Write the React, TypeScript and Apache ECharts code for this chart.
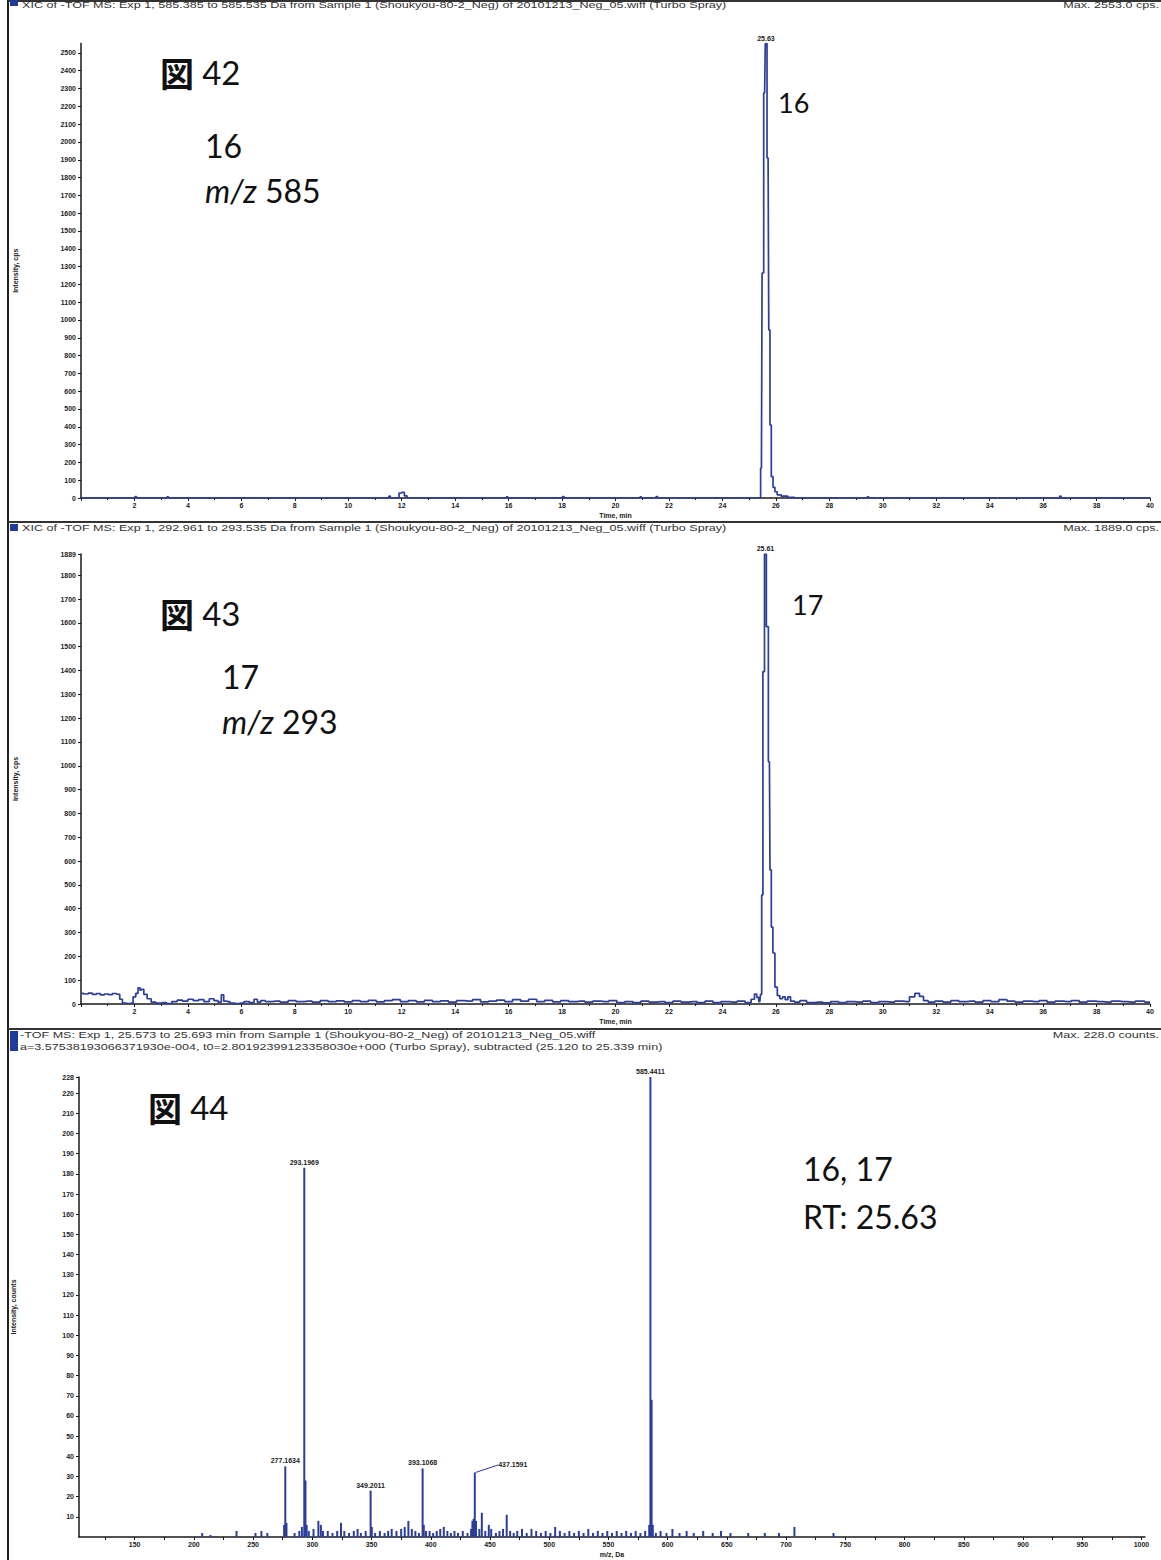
import React, { useEffect, useRef } from "react";
import * as echarts from "echarts";

// ---- Panel 1 (図42): XIC m/z 585 ----
const XIC585_TIME = [0, 2.0, 2.05, 2.1, 3.2, 3.25, 3.3, 11.5, 11.55, 11.6, 11.85, 11.95, 12.05, 12.15, 12.25, 15.9, 15.95, 16.0, 18.0, 18.05, 18.1, 20.9, 20.95, 21.0, 21.5, 21.55, 21.6, 25.4, 25.46, 25.51, 25.58, 25.63, 25.71, 25.76, 25.8, 25.86, 25.93, 26.0, 26.1, 26.3, 26.6, 26.8, 29.4, 29.45, 29.5, 36.6, 36.65, 36.7, 40];
const XIC585_INT = [0, 0, 8, 0, 0, 6, 0, 0, 10, 0, 0, 28, 32, 12, 0, 0, 6, 0, 0, 8, 0, 0, 6, 0, 0, 8, 0, 0, 168, 1264, 2275, 2553, 1910, 944, 410, 120, 60, 35, 18, 10, 4, 0, 0, 6, 0, 0, 10, 0, 0];

// ---- Panel 2 (図43): XIC m/z 293 ----
const XIC293_TIME = [0.0, 0.2, 0.35, 0.5, 0.65, 0.8, 0.95, 1.1, 1.25, 1.4, 1.5, 1.6, 1.75, 1.9, 2.0, 2.1, 2.17, 2.25, 2.3, 2.4, 2.55, 2.7, 2.9, 3.1, 3.3, 3.5, 3.7, 3.9, 4.1, 4.3, 4.5, 4.7, 4.9, 5.05, 5.2, 5.3, 5.38, 5.5, 5.65, 5.8, 6.0, 6.2, 6.4, 6.55, 6.65, 6.8, 7.0, 7.3, 7.6, 7.9, 8.2, 8.5, 8.8, 9.1, 9.4, 9.7, 10.0, 10.3, 10.6, 10.9, 11.2, 11.5, 11.8, 12.1, 12.4, 12.7, 13.0, 13.3, 13.6, 13.9, 14.2, 14.5, 14.8, 15.1, 15.4, 15.7, 16.0, 16.3, 16.6, 16.9, 17.2, 17.5, 17.8, 18.1, 18.4, 18.7, 19.0, 19.3, 19.6, 19.9, 20.2, 20.5, 20.8, 21.1, 21.4, 21.7, 22.0, 22.3, 22.6, 22.9, 23.2, 23.5, 23.8, 24.1, 24.4, 24.7, 25.0, 25.15, 25.25, 25.32, 25.4, 25.45, 25.49, 25.54, 25.61, 25.68, 25.76, 25.8, 25.86, 25.92, 26.01, 26.1, 26.2, 26.3, 26.4, 26.5, 26.6, 26.8, 27.0, 27.3, 27.6, 27.9, 28.2, 28.5, 28.8, 29.1, 29.4, 29.7, 30.0, 30.3, 30.6, 30.9, 31.1, 31.3, 31.45, 31.6, 31.8, 32.1, 32.4, 32.7, 33.0, 33.3, 33.6, 33.9, 34.2, 34.5, 34.8, 35.1, 35.4, 35.7, 36.0, 36.3, 36.6, 36.9, 37.2, 37.5, 37.8, 38.1, 38.4, 38.7, 39.0, 39.3, 39.6, 40.0];
const XIC293_INT = [45, 42, 46, 40, 44, 38, 42, 39, 44, 41, 20, 4, 2, 4, 30, 45, 68, 58, 62, 40, 22, 8, 4, 6, 2, 10, 16, 12, 20, 14, 18, 10, 22, 14, 8, 38, 12, 10, 4, 2, 4, 10, 6, 20, 8, 14, 10, 12, 8, 14, 10, 12, 8, 14, 10, 13, 9, 14, 10, 15, 9, 14, 18, 10, 14, 9, 15, 10, 13, 8, 14, 12, 18, 9, 12, 16, 10, 18, 12, 20, 10, 15, 9, 14, 10, 12, 8, 12, 10, 14, 6, 10, 6, 12, 8, 10, 6, 12, 8, 10, 6, 12, 6, 10, 8, 12, 6, 20, 42, 28, 10, 40, 458, 1395, 1889, 1584, 1017, 563, 323, 214, 71, 35, 22, 30, 18, 30, 12, 8, 14, 6, 8, 5, 10, 6, 10, 8, 12, 6, 10, 8, 12, 10, 30, 45, 32, 14, 8, 12, 8, 14, 10, 12, 8, 14, 10, 18, 12, 8, 12, 10, 14, 8, 12, 10, 14, 8, 12, 10, 8, 12, 10, 8, 12, 8];

// ---- Panel 3 (図44): mass spectrum at RT 25.63 ----
const SPEC_MZ = [207, 214, 236, 252, 257, 262, 276.17, 277.1634, 278.17, 285, 289, 291.2, 293.1969, 294.2, 295.2, 297, 301, 305.1, 307.2, 309, 313, 317, 321, 324.2, 327, 331, 335, 338.2, 341, 345, 349.2011, 350.2, 353, 357, 361, 364, 367, 371, 375, 378, 381.1, 384, 387, 390, 393.1068, 394.1, 396, 399, 402, 405, 408, 411, 414, 417, 420, 423, 427, 431, 434, 435.15, 436.15, 437.1591, 438.16, 441, 443.1, 446, 449, 451, 455, 458, 461, 464.1, 467, 470, 473, 477, 481, 485, 489, 493, 497, 501, 505, 509, 513, 517, 521, 525, 529, 533, 537, 541, 545, 549, 553, 557, 561, 565, 569, 573, 577, 581, 584.43, 585.4411, 586.44, 587.45, 590, 594, 599, 604, 610, 616, 622, 630, 638, 645, 653, 668, 682, 694, 707, 740];
const SPEC_COUNTS = [2, 1, 3, 2, 3, 2, 6, 35, 7, 2, 3, 5, 183, 28, 6, 3, 4, 8, 6, 3, 3, 2, 3, 7, 3, 2, 3, 4, 2, 3, 23, 5, 2, 3, 2, 3, 4, 3, 4, 5, 8, 4, 3, 2, 34, 6, 3, 3, 2, 3, 4, 5, 3, 2, 3, 2, 3, 2, 4, 8, 9, 32, 8, 4, 12, 3, 6, 4, 2, 3, 4, 11, 3, 2, 3, 4, 2, 4, 3, 2, 3, 2, 5, 3, 2, 3, 2, 3, 2, 4, 2, 3, 2, 3, 2, 3, 2, 3, 2, 3, 2, 3, 6, 228, 68, 6, 2, 3, 2, 4, 2, 3, 2, 3, 2, 3, 2, 2, 2, 2, 5, 2];
const LABELED_MZ = [277.1634, 293.1969, 349.2011, 393.1068, 437.1591, 585.4411];
const GUIDED_MZ = 437.1591;

// ---- axis ticks ----
const MZ_LABELS = [150, 200, 250, 300, 350, 400, 450, 500, 550, 600, 650, 700, 750, 800, 850, 900, 950, 1000];
const MZ_TICKS = [125, 150, 175, 200, 225, 250, 275, 300, 325, 350, 375, 400, 425, 450, 475, 500, 525, 550, 575, 600, 625, 650, 675, 700, 725, 750, 775, 800, 825, 850, 875, 900, 925, 950, 975, 1000];

const BLUE = "#2c3e9c";
const DARK = "#1a1a1a";

function pairs(xs: number[], ys: number[]) {
  return xs.map((x, i) => [x, ys[i]]);
}
function apex(xs: number[], ys: number[]) {
  let k = 0;
  ys.forEach((v, i) => { if (v > ys[k]) k = i; });
  return { coord: [xs[k], ys[k]], value: xs[k].toFixed(2) };
}

export default function App() {
  const ref = useRef<HTMLDivElement>(null);
  useEffect(() => {
    document.body.style.margin = "0";
    const chart = echarts.init(ref.current!, null, { renderer: "svg" });
    const plain = (v: number) => String(Math.round(v * 100) / 100);
    const tickFont = { fontFamily: "Liberation Sans", fontSize: 7, fontWeight: "bold" as const, color: "#222", formatter: plain };
    const nameFont = { fontFamily: "Liberation Sans", fontSize: 7, fontWeight: "bold" as const, color: "#222" };
    const axisLine = { show: true, onZero: false, lineStyle: { color: DARK, width: 1.5 } };
    const axisTick = { show: true, inside: false, length: 3, lineStyle: { color: DARK, width: 1 } };

    const timeAxis = (gi: number) => ({
      type: "value", gridIndex: gi, min: 0, max: 40, interval: 2,
      name: "Time, min", nameLocation: "middle", nameGap: 14, nameTextStyle: nameFont,
      axisLine, axisTick,
      minorTick: { show: true, splitNumber: 2, length: 2, lineStyle: { color: DARK } },
      axisLabel: { ...tickFont, margin: 4, showMinLabel: false },
      splitLine: { show: false },
    });
    const intAxis = (gi: number, max: number, interval: number, name: string, extra: any) => ({
      type: "value", gridIndex: gi, min: 0, max, interval,
      name, nameLocation: "middle", nameGap: 62, nameRotate: 90, nameTextStyle: nameFont,
      axisLine, axisTick,
      axisLabel: { ...tickFont, margin: 5, ...extra },
      splitLine: { show: false },
    });

    const peakLabel = {
      show: true, position: "top", distance: 2, formatter: "{c}",
      fontFamily: "Liberation Sans", fontSize: 7, fontWeight: "bold", color: "#222",
    };

    const specData = SPEC_MZ.map((m, i) => {
      const labeled = LABELED_MZ.includes(m);
      const item: any = { value: [m, SPEC_COUNTS[i]] };
      if (labeled) item.label = { show: true };
      if (m === GUIDED_MZ) item.labelLine = { show: true, lineStyle: { color: BLUE, width: 1 } };
      return item;
    });
    const guidedIndex = SPEC_MZ.indexOf(GUIDED_MZ);

    const txt = (x: number, y: number, text: string, extra: any = {}) => ({
      type: "text", x, y, scaleX: 1.4, silent: true,
      style: {
        text, fontSize: 9, fontFamily: "Liberation Sans", fill: "#333",
        align: "left", verticalAlign: "middle", textAlign: "left", textVerticalAlign: "middle",
        ...extra,
      },
    });
    const big = (x: number, y: number, text: string, extra: any = {}) => ({
      type: "text", x, y, silent: true,
      style: {
        text, fontSize: 32, fontFamily: "Lato", fill: "#111",
        align: "left", verticalAlign: "middle", textAlign: "left", textVerticalAlign: "middle",
        rich: {
          cjk: { fontFamily: "Noto Sans CJK JP", fontSize: 34, fontWeight: "bold", fill: "#111" },
          num: { fontFamily: "Lato", fontSize: 33, fill: "#111" },
          it: { fontFamily: "Lato", fontSize: 32, fontStyle: "italic", fill: "#111" },
        },
        ...extra,
      },
    });
    const hline = (y: number) => ({ type: "line", silent: true, shape: { x1: 8, y1: y, x2: 1161, y2: y }, style: { stroke: "#333", lineWidth: 2 } });
    const right = { align: "right", textAlign: "right" };

    const option: any = {
      animation: false,
      backgroundColor: "#ffffff",
      grid: [
        { left: 81, top: 43.5, width: 1069, height: 454.5 },
        { left: 81, top: 554, width: 1069, height: 450 },
        { left: 79, top: 1077, width: 1066, height: 460 },
      ],
      xAxis: [
        timeAxis(0),
        timeAxis(1),
        {
          type: "value", gridIndex: 2, min: 103, max: 1003,
          name: "m/z, Da", nameLocation: "middle", nameGap: 14, nameTextStyle: nameFont,
          axisLine, axisTick: { ...axisTick, customValues: MZ_TICKS },
          axisLabel: { ...tickFont, margin: 4, customValues: MZ_LABELS },
          splitLine: { show: false },
        },
      ],
      yAxis: [
        intAxis(0, 2553, 100, "Intensity, cps", { showMaxLabel: false }),
        intAxis(1, 1889, 100, "Intensity, cps", {}),
        intAxis(2, 228, 10, "Intensity, counts", { showMinLabel: false }),
      ],
      series: [
        {
          type: "line", xAxisIndex: 0, yAxisIndex: 0, step: "middle", symbol: "none",
          data: pairs(XIC585_TIME, XIC585_INT),
          lineStyle: { color: BLUE, width: 1.7 },
          markPoint: { symbol: "circle", symbolSize: 0, label: peakLabel, data: [apex(XIC585_TIME, XIC585_INT)] },
        },
        {
          type: "line", xAxisIndex: 1, yAxisIndex: 1, step: "middle", symbol: "none",
          data: pairs(XIC293_TIME, XIC293_INT),
          lineStyle: { color: BLUE, width: 1.7 },
          markPoint: { symbol: "circle", symbolSize: 0, label: peakLabel, data: [apex(XIC293_TIME, XIC293_INT)] },
        },
        {
          type: "bar", xAxisIndex: 2, yAxisIndex: 2, barWidth: 2,
          data: specData,
          itemStyle: { color: BLUE },
          label: {
            show: false, position: "top", distance: 2,
            formatter: (p: any) => p.value[0].toFixed(4),
            fontFamily: "Liberation Sans", fontSize: 7, fontWeight: "bold", color: "#222",
          },
          labelLayout: (p: any) => (p.dataIndex === guidedIndex ? { dx: 38, dy: -2 } : {}),
        },
      ],
      graphic: [
        { type: "line", silent: true, shape: { x1: 8, y1: 0, x2: 8, y2: 1560 }, style: { stroke: "#222", lineWidth: 2 } },
        hline(1), hline(522), hline(1029),
        { type: "rect", silent: true, shape: { x: 10, y: 0, width: 8, height: 6 }, style: { fill: "#1f3c9a" } },
        { type: "rect", silent: true, shape: { x: 10, y: 524, width: 8, height: 7 }, style: { fill: "#1f3c9a" } },
        { type: "rect", silent: true, shape: { x: 10, y: 1031, width: 8, height: 20 }, style: { fill: "#1f3c9a" } },
        txt(22, 5, "XIC of -TOF MS: Exp 1, 585.385 to 585.535 Da from Sample 1 (Shoukyou-80-2_Neg) of 20101213_Neg_05.wiff (Turbo Spray)"),
        txt(1159, 5, "Max. 2553.0 cps.", right),
        txt(22, 528, "XIC of -TOF MS: Exp 1, 292.961 to 293.535 Da from Sample 1 (Shoukyou-80-2_Neg) of 20101213_Neg_05.wiff (Turbo Spray)"),
        txt(1159, 528, "Max. 1889.0 cps.", right),
        txt(20, 1035, "-TOF MS: Exp 1, 25.573 to 25.693 min from Sample 1 (Shoukyou-80-2_Neg) of 20101213_Neg_05.wiff"),
        txt(20, 1047, "a=3.57538193066371930e-004, t0=2.80192399123358030e+000 (Turbo Spray), subtracted (25.120 to 25.339 min)"),
        txt(1159, 1035, "Max. 228.0 counts.", right),
        big(160, 72, "{cjk|図} {num|42}"),
        big(205, 145, "16"),
        big(205, 190, "{it|m/z} 585"),
        big(778, 102, "16", { fontSize: 27 }),
        big(160, 613, "{cjk|図} {num|43}"),
        big(222, 676, "17"),
        big(222, 721, "{it|m/z} 293"),
        big(792, 604, "17", { fontSize: 27 }),
        big(148, 1107, "{cjk|図} {num|44}"),
        big(803, 1168, "16, 17"),
        big(803, 1216, "RT: 25.63"),
      ],
    };
    chart.setOption(option);
    return () => chart.dispose();
  }, []);
  return <div ref={ref} style={{ width: 1161, height: 1560 }} />;
}
